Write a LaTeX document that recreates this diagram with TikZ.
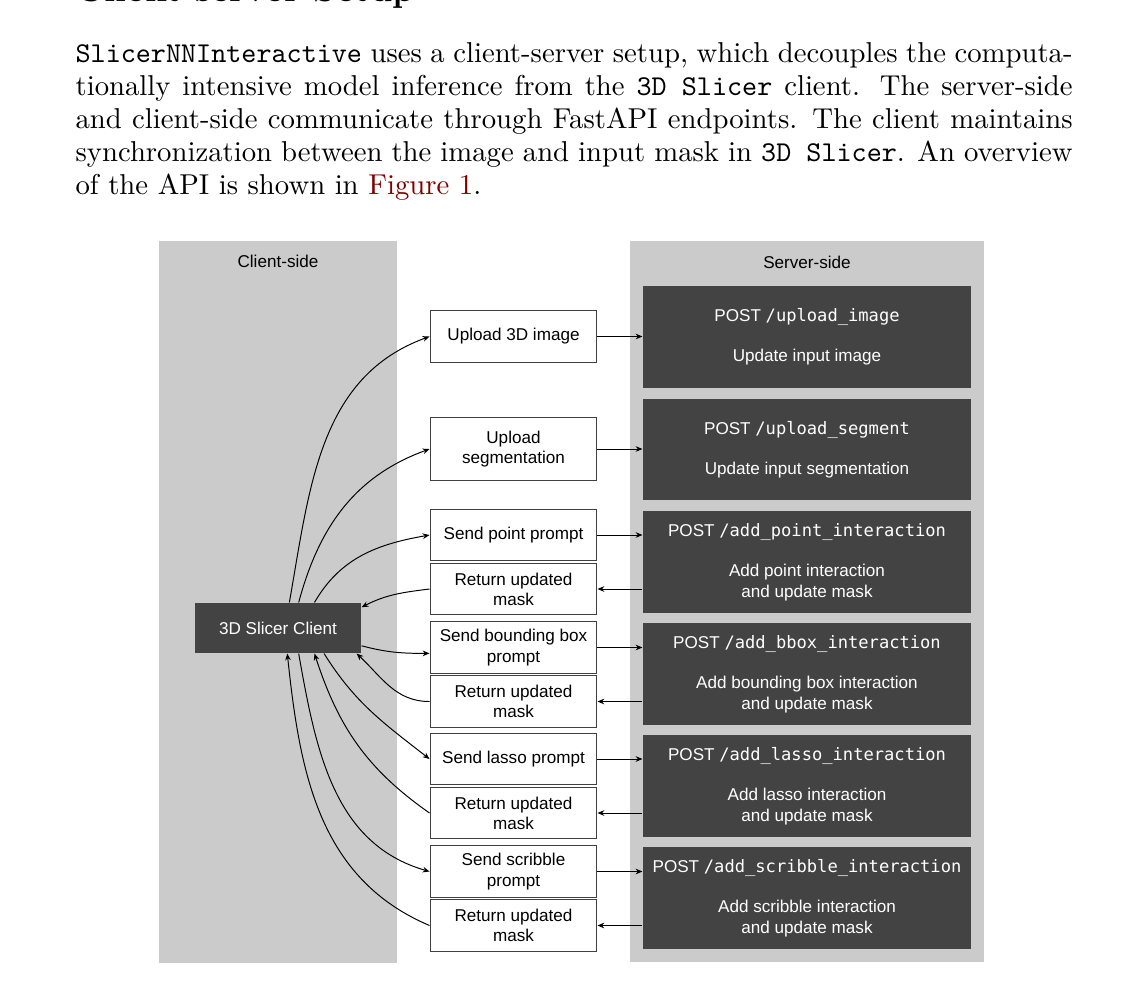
\documentclass[tikz,border=0pt]{standalone}
\usepackage{fontspec}
\usetikzlibrary{arrows.meta}
\newfontfamily\figsans{Liberation Sans}
\newfontfamily\figmono{DejaVu Sans Mono}
\definecolor{panelgray}{HTML}{CBCBCB}
\definecolor{boxgray}{HTML}{434343}
\definecolor{linkred}{rgb}{0.5,0,0}
\newcommand{\route}[1]{{\figmono #1}}
\newcommand{\figfont}{\figsans\fontsize{5.76}{6.8}\selectfont}
\newcommand{\parline}[1]{\makebox[335.7pt][s]{#1}}

\begin{document}
\begin{tikzpicture}[x=0.3367pt,y=0.3367pt,
    flow/.style={-{Stealth[length=2.3pt,width=1.9pt]}, line width=0.33pt},
    stepbox/.style={draw=black!75, line width=0.35pt, fill=white, minimum width=56.2pt,
        minimum height=17.2pt, inner sep=0pt, align=center, font=\figfont},
    apibox/.style={fill=boxgray, text=white, minimum width=110.4pt, minimum height=34.3pt,
        inner sep=0pt, align=center, font=\figfont}]
    \useasboundingbox (0,0) rectangle (1148,-988);

    \node[anchor=base west, inner sep=0pt, font=\fontsize{12}{14}\bfseries] (heading) at (75,-1) {Client-server Setup};
    \begin{scope}[every node/.style={anchor=base west, inner sep=0pt, font=\fontsize{9.67}{11.1}\selectfont}]
        \node (par1) at (75,-62) {\parline{\texttt{SlicerNNInteractive} uses a client-server setup, which decouples the computa-}};
        \node (par2) at (75,-95) {\parline{tionally intensive model inference from the \texttt{3D Slicer} client. The server-side}};
        \node (par3) at (75,-128) {\parline{and client-side communicate through FastAPI endpoints. The client maintains}};
        \node (par4) at (75,-161) {\parline{synchronization between the image and input mask in \texttt{3D Slicer}. An overview}};
        \node (par5) at (75,-194) {of the API is shown in \textcolor{linkred}{Figure 1}.};
    \end{scope}

    \fill[panelgray] (159,-241) rectangle (397,-963);
    \fill[panelgray] (630,-241) rectangle (984,-962);
    \node[font=\figfont] (clientside) at (278,-261) {Client-side};
    \node[font=\figfont] (serverside) at (807,-262) {Server-side};

    \node[fill=boxgray, text=white, minimum width=55.9pt, minimum height=16.8pt, inner sep=0pt, font=\figfont] (client) at (278,-628) {3D Slicer Client};

    \begin{scope}[every node/.style={apibox}]
        \node (imgapi) at (807,-337) {POST \route{/upload\_image}\\[6.8pt]Update input image};
        \node (segapi) at (807,-449.5) {POST \route{/upload\_segment}\\[6.8pt]Update input segmentation};
        \node (ptapi) at (807,-562) {POST \route{/add\_point\_interaction}\\[6.8pt]Add point interaction\\and update mask};
        \node (bbapi) at (807,-674) {POST \route{/add\_bbox\_interaction}\\[6.8pt]Add bounding box interaction\\and update mask};
        \node (lasapi) at (807,-786) {POST \route{/add\_lasso\_interaction}\\[6.8pt]Add lasso interaction\\and update mask};
        \node (scrapi) at (807,-898) {POST \route{/add\_scribble\_interaction}\\[6.8pt]Add scribble interaction\\and update mask};
    \end{scope}

    \begin{scope}[every node/.style={stepbox}]
        \node (upimg) at (513.5,-336.5) {Upload 3D image};
        \node[minimum height=20.9pt] (upseg) at (513.5,-449) {Upload\\segmentation};
        \node (sendpt) at (513.5,-535) {Send point prompt};
        \node (retpt) at (513.5,-589) {Return updated\\mask};
        \node (sendbb) at (513.5,-647.5) {Send bounding box\\prompt};
        \node (retbb) at (513.5,-701.5) {Return updated\\mask};
        \node (sendlas) at (513.5,-759) {Send lasso prompt};
        \node (retlas) at (513.5,-813) {Return updated\\mask};
        \node (sendscr) at (513.5,-871.5) {Send scribble\\prompt};
        \node (retscr) at (513.5,-925.5) {Return updated\\mask};
    \end{scope}

    \begin{scope}[every path/.style={flow}]
        \draw (upimg.east) -- (upimg.east -| imgapi.west);
        \draw (upseg.east) -- (upseg.east -| segapi.west);
        \draw (sendpt.east) -- (sendpt.east -| ptapi.west);
        \draw (retpt.east -| ptapi.west) -- (retpt.east);
        \draw (sendbb.east) -- (sendbb.east -| bbapi.west);
        \draw (retbb.east -| bbapi.west) -- (retbb.east);
        \draw (sendlas.east) -- (sendlas.east -| lasapi.west);
        \draw (retlas.east -| lasapi.west) -- (retlas.east);
        \draw (sendscr.east) -- (sendscr.east -| scrapi.west);
        \draw (retscr.east -| scrapi.west) -- (retscr.east);

        \draw (client.66) to[out=80,in=200] (upimg.west);
        \draw (client.51) to[out=75,in=200] (upseg.west);
        \draw (client.35) to[out=60,in=190] (sendpt.west);
        \draw (retpt.west) to[out=187,in=27] (client.14);
        \draw (client.-12) to[out=-15,in=180] (sendbb.184);
        \draw (retbb.west) to[out=180,in=-43] (client.-18);
        \draw (client.-29) to[out=-58,in=142] (sendlas.west);
        \draw (retlas.west) to[out=145,in=-72] (client.-35);
        \draw (client.-51) to[out=-80,in=164] (sendscr.west);
        \draw (retscr.west) to[out=157,in=-84] (client.-70);
    \end{scope}
\end{tikzpicture}
\end{document}
